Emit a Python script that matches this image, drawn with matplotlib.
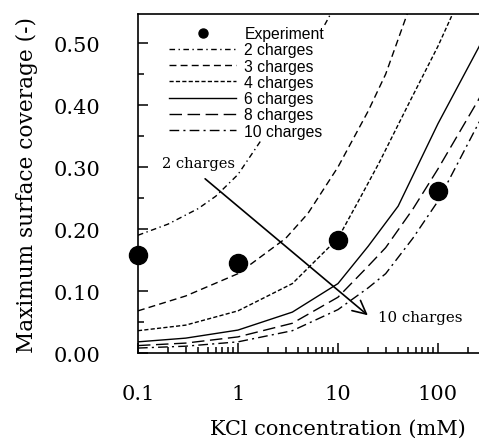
import numpy as np
import matplotlib
matplotlib.use("Agg")
import matplotlib.pyplot as plt
from matplotlib.ticker import FixedLocator, MultipleLocator, LogLocator, NullFormatter

plt.rcParams['font.family'] = ['DejaVu Serif']

# 实验数据
kcl_exp = [0.1, 1, 10, 100]
cov_exp = [0.158, 0.145, 0.183, 0.262]

# 理论曲线
x2 = [0.1, 0.2, 0.4, 0.6, 1, 1.5, 2, 3, 5, 8, 10]
y2 = [0.19, 0.208, 0.233, 0.253, 0.288, 0.33, 0.36, 0.41, 0.48, 0.54, 0.57]
x3 = [0.1, 0.3, 1, 3, 5, 10, 20, 30, 50]
y3 = [0.068, 0.092, 0.128, 0.185, 0.225, 0.30, 0.39, 0.45, 0.55]
x4 = [0.1, 0.3, 1, 3.5, 10, 16, 26, 52, 100, 140]
y4 = [0.036, 0.045, 0.068, 0.112, 0.185, 0.245, 0.308, 0.405, 0.495, 0.547]
x6 = [0.1, 0.3, 1, 3.5, 10, 20, 40, 100, 257, 300]
y6 = [0.018, 0.024, 0.037, 0.066, 0.112, 0.172, 0.237, 0.37, 0.494, 0.515]
x8 = [0.1, 0.3, 1, 3.5, 10, 20, 30, 56, 100, 257, 300]
y8 = [0.012, 0.016, 0.026, 0.048, 0.09, 0.14, 0.17, 0.232, 0.297, 0.41, 0.43]
x10 = [0.1, 0.3, 1, 3.5, 10, 20, 30, 56, 100, 257, 300]
y10 = [0.008, 0.011, 0.018, 0.036, 0.07, 0.105, 0.128, 0.185, 0.245, 0.372, 0.39]

fig = plt.figure(figsize=(4.79, 4.39), dpi=100)
# 原图右侧被裁掉, 坐标轴延伸到 1000 mM
ax = fig.add_axes([0.288, 0.1936, 400 / 479, 0.7722])

lw = 1.0
ax.plot(kcl_exp, cov_exp, 'o', color='k', markersize=13, label='Experiment', zorder=5, clip_on=False)
ax.plot(x2, y2, color='k', lw=lw, linestyle=(0, (4, 2.5, 1, 2.5)), label='2 charges')
ax.plot(x3, y3, color='k', lw=lw, linestyle=(0, (5, 3)), label='3 charges')
ax.plot(x4, y4, color='k', lw=lw, linestyle=(0, (3, 1.6)), label='4 charges')
ax.plot(x6, y6, color='k', lw=lw, linestyle='-', label='6 charges')
ax.plot(x8, y8, color='k', lw=lw, linestyle=(0, (9, 4)), label='8 charges')
ax.plot(x10, y10, color='k', lw=lw, linestyle=(0, (7, 3, 1.5, 3)), label='10 charges')

ax.set_xscale('log')
ax.set_xlim(0.1, 1000)
ax.set_ylim(0, 0.547)

ax.xaxis.set_major_locator(FixedLocator([0.1, 1, 10, 100]))
ax.set_xticklabels(['0.1', '1', '10', '100'])
ax.xaxis.set_minor_locator(LogLocator(base=10, subs=np.arange(2, 10)))
ax.xaxis.set_minor_formatter(NullFormatter())
ax.yaxis.set_major_locator(MultipleLocator(0.1))
ax.yaxis.set_minor_locator(MultipleLocator(0.05))
ax.set_yticks([0, 0.1, 0.2, 0.3, 0.4, 0.5])
ax.set_yticklabels(['0.00', '0.10', '0.20', '0.30', '0.40', '0.50'])

ax.tick_params(which='both', direction='in', width=1.1, labelsize=15)
ax.tick_params(which='major', length=7)
ax.tick_params(which='minor', length=4)
ax.tick_params(axis='x', which='major', pad=22)
ax.tick_params(axis='y', which='major', pad=27)
for s in ['left', 'bottom', 'top']:
    ax.spines[s].set_linewidth(1.2)
ax.spines['right'].set_visible(False)

ax.set_xlabel('KCl concentration (mM)', fontsize=15, labelpad=12)
ax.set_ylabel('Maximum surface coverage (-)', fontsize=15.6, labelpad=11)

# 箭头和标注
ax.annotate('', xy=(20.9, 0.058), xytext=(0.447, 0.284),
            arrowprops=dict(arrowstyle='->', color='k', lw=1.2, mutation_scale=24))
ax.text(0.4, 0.307, '2 charges', fontsize=10.5, ha='center', va='center')
ax.text(25, 0.058, '10 charges', fontsize=10.8, ha='left', va='center')

leg = ax.legend(loc='upper left', bbox_to_anchor=(0.054, 0.992), frameon=True,
                prop={'family': 'Liberation Sans', 'size': 11.3},
                handlelength=4.3, handletextpad=0.5, labelspacing=0.08,
                borderpad=0.1, markerscale=0.5, numpoints=1)
leg.get_frame().set_edgecolor('none')
leg.get_frame().set_alpha(1)

fig.savefig('out.png', dpi=100)
